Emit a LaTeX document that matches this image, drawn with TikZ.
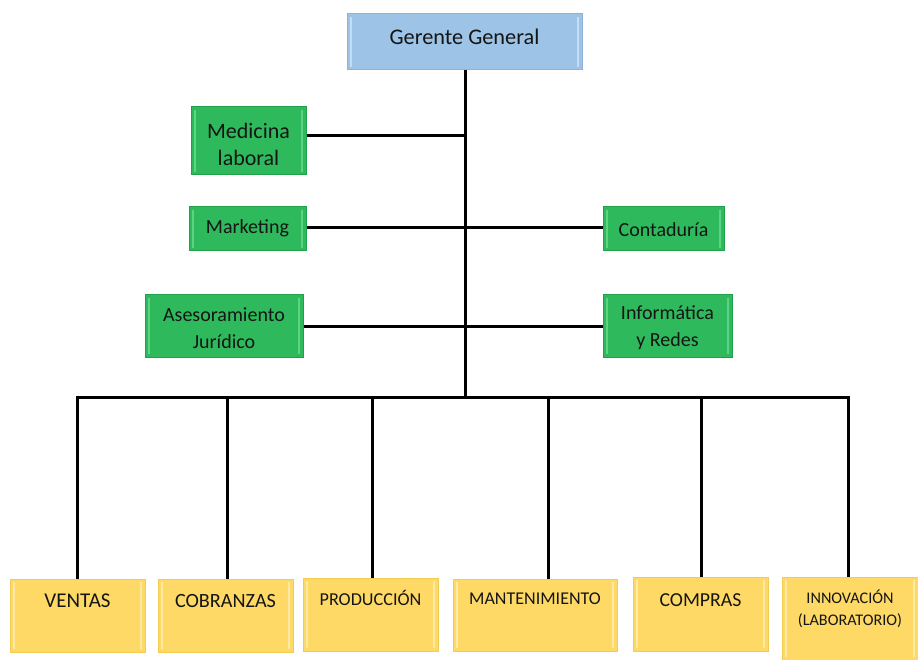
\documentclass[tikz,border=0pt]{standalone}
\usepackage{fontspec}
\setmainfont{Carlito}
\definecolor{bluefill}{HTML}{9DC3E6}
\definecolor{blueedge}{HTML}{8DB3D8}
\definecolor{bluein}{HTML}{C5DDF2}
\definecolor{greenfill}{HTML}{2EBA5C}
\definecolor{greenedge}{HTML}{21A04A}
\definecolor{greenin}{HTML}{5CD483}
\definecolor{yelfill}{HTML}{FFD966}
\definecolor{yeledge}{HTML}{F2CB55}
\definecolor{yelin}{HTML}{FFE9A6}
\definecolor{txt}{HTML}{151515}
\begin{document}
\begin{tikzpicture}[x=1pt,y=-1pt,
  box/.style={draw=#1edge, fill=#1fill, line width=1pt, inner sep=0pt,
    path picture={
      \draw[#1in, line width=1.2pt]
        ([xshift=4pt,yshift=-3pt]path picture bounding box.north west) --
        ([xshift=4pt,yshift=3pt]path picture bounding box.south west);
      \draw[#1in, line width=1.2pt]
        ([xshift=-4pt,yshift=-3pt]path picture bounding box.north east) --
        ([xshift=-4pt,yshift=3pt]path picture bounding box.south east);
    }},
  lbl/.style={text=txt, align=center, inner sep=0pt, font=\fontsize{#1}{27}\selectfont},
  lbl/.default=20,
  conn/.style={line width=3pt, black}
]
\useasboundingbox (0,0) rectangle (918,660);

% boxes
\node[box=blue, minimum width=235pt, minimum height=56pt] (gg) at (464.5,42) {};
\node[box=green, minimum width=115pt, minimum height=68pt] (med) at (248.5,141) {};
\node[box=green, minimum width=117pt, minimum height=44pt] (mkt) at (247.5,229) {};
\node[box=green, minimum width=121pt, minimum height=44pt] (cont) at (663.5,229) {};
\node[box=green, minimum width=158pt, minimum height=62pt] (ase) at (224,326) {};
\node[box=green, minimum width=129pt, minimum height=62pt] (inf) at (667.5,326) {};

\node[box=yel, minimum width=135pt, minimum height=73pt] (ven) at (77.5,615.5) {};
\node[box=yel, minimum width=135pt, minimum height=73pt] (cob) at (225.5,615.5) {};
\node[box=yel, minimum width=135pt, minimum height=73pt] (pro) at (370.5,614.5) {};
\node[box=yel, minimum width=164pt, minimum height=72pt] (man) at (535,615) {};
\node[box=yel, minimum width=135pt, minimum height=74pt] (com) at (700.5,614) {};
\node[box=yel, minimum width=136pt, minimum height=83pt] (inn) at (850,618.5) {};

% labels
\node[lbl=22.3] (tgg) at (464.5,36.5) {Gerente General};
\node[lbl=22] (tmed) at (248.5,144) {Medicina\\laboral};
\node[lbl] (tmkt) at (247.5,228) {Marketing};
\node[lbl] (tcont) at (663.5,230) {Contaduría};
\node[lbl] (tase) at (224,328) {Asesoramiento\\Jurídico};
\node[lbl] (tinf) at (667.5,328) {Informática\\y Redes};

\node[lbl=21, anchor=base] (tven) at (77.5,607) {VENTAS};
\node[lbl=20.2, anchor=base] (tcob) at (225.5,607) {COBRANZAS};
\node[lbl=18.2, anchor=base] (tpro) at (370.5,605) {PRODUCCIÓN};
\node[lbl=18, anchor=base] (tman) at (535,604) {MANTENIMIENTO};
\node[lbl=19.8, anchor=base] (tcom) at (700.5,606) {COMPRAS};
\node[lbl=16.2, anchor=base] (tinn) at (850,603) {INNOVACIÓN};
\node[lbl=16.2, anchor=base] (tinn2) at (850,625) {(LABORATORIO)};

% connectors
\coordinate (hub) at (465,397);
\coordinate (jmed) at (465,136);
\coordinate (jmkt) at (465,228);
\coordinate (jase) at (465,326);
\draw[conn] (gg.south -| hub) -- (hub);
\draw[conn] (med.east |- jmed) -- (jmed);
\draw[conn] (mkt.east |- jmkt) -- (cont.west |- jmkt);
\draw[conn] (ase.east |- jase) -- (inf.west |- jase);
\draw[conn, line join=miter] (ven.north -| 77,0) -- (77,397) -- (848,397) -- (inn.north -| 848,0);
\draw[conn] (cob.north -| 227,0) -- (227,397);
\draw[conn] (pro.north -| 372,0) -- (372,397);
\draw[conn] (man.north -| 548,0) -- (548,397);
\draw[conn] (com.north -| 701,0) -- (701,397);
\end{tikzpicture}
\end{document}
